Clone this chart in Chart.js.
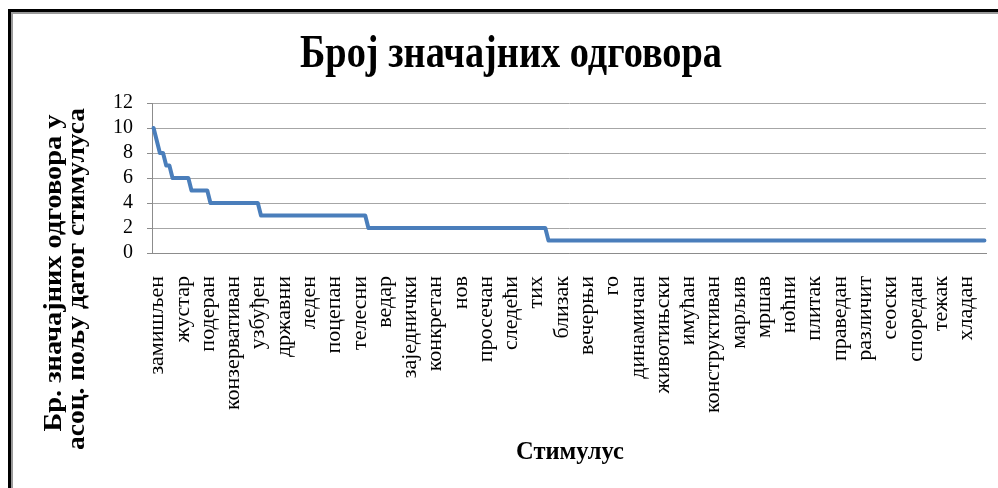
<!DOCTYPE html>
<html><head><meta charset="utf-8">
<script src="https://cdn.jsdelivr.net/npm/chart.js@4"></script>
<style>
html,body{margin:0;padding:0;background:#fff;}
#wrap{position:relative;width:998px;height:488px;overflow:hidden;background:#fff;}
#frame{position:absolute;left:8px;top:9px;width:1000px;height:490px;border-top:3px solid #000;border-left:3px solid #000;box-shadow:inset 2px 2px 0 #9a9a9a;}
canvas{position:absolute;left:0;top:0;}
</style></head><body>
<div id="wrap"><div id="frame"></div><canvas id="c" width="998" height="488"></canvas></div>
<script>
const chartTitle = 'Број значајних одговора';
const yTitleLines = ['Бр. значајних одговора у', 'асоц. пољу датог стимулуса'];
const xTitle = 'Стимулус';
const labelStep = 8;
const stimuli = ['замишљен','жустар','подеран','конзервативан','узбуђен','државни','леден','поцепан','телесни',
  'ведар','заједнички','конкретан','нов','просечан','следећи','тих','близак','вечерњи','го','динамичан',
  'животињски','имућан','конструктиван','марљив','мршав','ноћни','плитак','праведан','различит','сеоски',
  'споредан','тежак','хладан'];
const responses = [
  10,9,8,8,7,7,
  6,6,6,6,6,6,
  5,5,5,5,5,5,
  4,4,4,4,4, 4,4,4,4,4, 4,4,4,4,4, 4,
  3,3,3,3,3, 3,3,3,3,3, 3,3,3,3,3, 3,3,
  3,3,3,3,3, 3,3,3,3,3, 3,3,3,3,3, 3,3,
  2,2,2,2,2, 2,2,2,2,2, 2,2,2,2,2, 2,2,2,2,
  2,2,2,2,2, 2,2,2,2,2, 2,2,2,2,2, 2,2,2,2,
  2,2,2,2,2, 2,2,2,2,2, 2,2,2,2,2, 2,2,2,2,
  1,1,1,1,1, 1,1,1,1,1, 1,1,1,1,1, 1,1,1,1,1,
  1,1,1,1,1, 1,1,1,1,1, 1,1,1,1,1, 1,1,1,1,1,
  1,1,1,1,1, 1,1,1,1,1, 1,1,1,1,1, 1,1,1,1,1,
  1,1,1,1,1, 1,1,1,1,1, 1,1,1,1,1, 1,1,1,1,1,
  1,1,1,1,1, 1,1,1,1,1, 1,1,1,1,1, 1,1,1,1,1,
  1,1,1,1,1, 1,1,1,1,1, 1,1,1,1,1, 1,1,1,1,1,
  1,1,1,1,1, 1,1,1,1,1, 1,1,1,1,1, 1,1,1,1
];
const yTicks = [0,2,4,6,8,10,12];

const categories = responses.map((v, i) => i % labelStep === 0 ? (stimuli[i / labelStep] || '') : '');

function drawFitted(ctx, text, font, x, y, rot, targetLen) {
  ctx.save();
  ctx.font = font;
  const w = ctx.measureText(text).width;
  ctx.translate(x, y);
  ctx.rotate(rot);
  ctx.scale(targetLen / w, 1);
  ctx.textAlign = 'center';
  ctx.textBaseline = 'alphabetic';
  ctx.fillStyle = '#000';
  ctx.fillText(text, 0, 0);
  ctx.restore();
}

const textPlugin = {
  id: 'texts',
  afterDraw(chart) {
    const ctx = chart.ctx;
    drawFitted(ctx, chartTitle, 'bold 46px "Liberation Serif"', 511, 67, 0, 422);
    drawFitted(ctx, yTitleLines[0], 'bold 25px "Liberation Serif"', 61, 273, -Math.PI / 2, 317);
    drawFitted(ctx, yTitleLines[1], 'bold 25px "Liberation Serif"', 84, 279, -Math.PI / 2, 342);
    drawFitted(ctx, xTitle, 'bold 25px "Liberation Serif"', 570, 459, 0, 108);
  }
};

new Chart(document.getElementById('c').getContext('2d'), {
  type: 'line',
  data: {
    labels: categories,
    datasets: [{
      data: responses,
      borderColor: '#4A7EBB',
      borderWidth: 4,
      pointRadius: 0,
      tension: 0,
      borderJoinStyle: 'round',
      borderCapStyle: 'round',
      fill: false
    }]
  },
  options: {
    responsive: false,
    animation: false,
    devicePixelRatio: 1,
    layout: { padding: { top: 103, right: 12, left: 0, bottom: 0 } },
    plugins: { legend: { display: false }, title: { display: false }, tooltip: { enabled: false } },
    scales: {
      x: {
        type: 'category',
        offset: true,
        grid: { display: true, drawOnChartArea: false, drawTicks: false },
        border: { display: true, color: '#8c8c8c', width: 1 },
        ticks: {
          autoSkip: false, maxRotation: 90, minRotation: 90, padding: 23, labelOffset: 4,
          color: '#000', font: { family: '"Liberation Serif"', size: 22 }
        },
        afterFit: s => { s.height = 235; s.paddingLeft = 0; s.paddingRight = 0; }
      },
      y: {
        min: 0, max: 12,
        afterBuildTicks: s => { s.ticks = yTicks.map(v => ({ value: v })); },
        ticks: { autoSkip: false, color: '#000', padding: 14, font: { family: '"Liberation Serif"', size: 20 } },
        grid: { color: '#a6a6a6', tickLength: 5, tickColor: '#8c8c8c' },
        border: { color: '#8c8c8c' },
        afterFit: s => { s.width = 152; s.paddingTop = 0; s.paddingBottom = 0; }
      }
    }
  },
  plugins: [textPlugin]
});
</script>
</body></html>
